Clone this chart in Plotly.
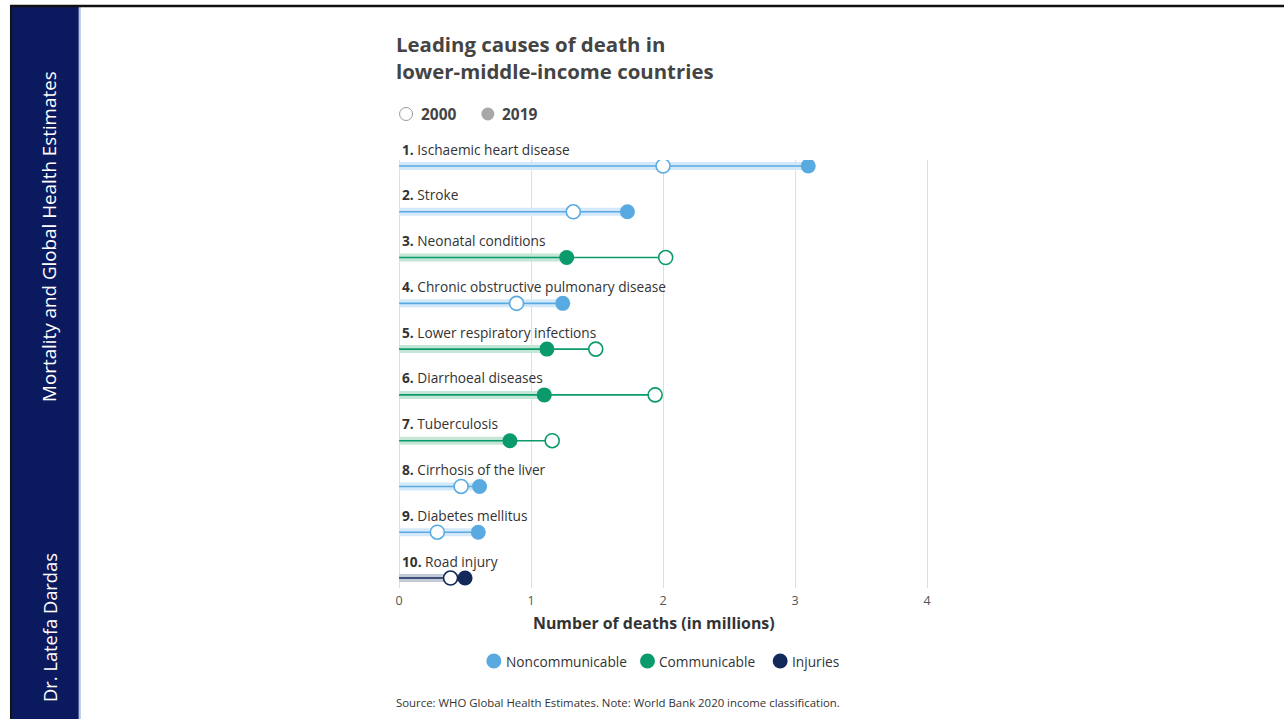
import plotly.graph_objects as go

W, H = 1285, 719

causes = ["Ischaemic heart disease", "Stroke", "Neonatal conditions",
          "Chronic obstructive pulmonary disease", "Lower respiratory infections",
          "Diarrhoeal diseases", "Tuberculosis", "Cirrhosis of the liver",
          "Diabetes mellitus", "Road injury"]
deaths_2000 = [2.00, 1.32, 2.02, 0.89, 1.49, 1.94, 1.16, 0.47, 0.29, 0.39]
deaths_2019 = [3.10, 1.73, 1.27, 1.24, 1.12, 1.10, 0.84, 0.61, 0.60, 0.50]
groups = ["Noncommunicable", "Noncommunicable", "Communicable", "Noncommunicable",
          "Communicable", "Communicable", "Communicable", "Noncommunicable",
          "Noncommunicable", "Injuries"]
x_ticks = [0, 1, 2, 3, 4]

main_col = {"Noncommunicable": "#5aaae2", "Communicable": "#0b9a6b", "Injuries": "#13295a"}
band_col = {"Noncommunicable": "#d3e8f8", "Communicable": "#c3e6d6", "Injuries": "#c2cad8"}
FONT = "Open Sans"

# layout geometry (pixels)
X0_PX, UNIT_PX = 398, 132.3
ROW0_PX, ROW_STEP = 166, 45.78
PLOT_TOP, PLOT_BOT = 160, 588


def px(x):
    return x / W


def py(y):
    return 1 - y / H


fig = go.Figure()

for g in ["Noncommunicable", "Communicable", "Injuries"]:
    idx = [i for i, gg in enumerate(groups) if gg == g]
    bx, by, lx, ly = [], [], [], []
    for i in idx:
        bx += [0, deaths_2019[i], None]
        by += [i, i, None]
        lx += [0, max(deaths_2000[i], deaths_2019[i]), None]
        ly += [i, i, None]
    fig.add_trace(go.Scatter(x=bx, y=by, mode="lines", line=dict(color=band_col[g], width=8),
                             hoverinfo="skip", showlegend=False))
    fig.add_trace(go.Scatter(x=lx, y=ly, mode="lines", line=dict(color=main_col[g], width=1.6),
                             hoverinfo="skip", showlegend=False))
    fig.add_trace(go.Scatter(x=[deaths_2000[i] for i in idx], y=idx, mode="markers",
                             marker=dict(size=14, color="white", line=dict(color=main_col[g], width=1.6)),
                             showlegend=False, name="2000"))
    fig.add_trace(go.Scatter(x=[deaths_2019[i] for i in idx], y=idx, mode="markers",
                             marker=dict(size=15, color=main_col[g], line=dict(color=main_col[g], width=0)),
                             showlegend=False, name="2019"))

annotations = []
for i, c in enumerate(causes):
    annotations.append(dict(x=px(X0_PX), y=py(ROW0_PX + i * ROW_STEP - 17), xref="paper", yref="paper",
                            xanchor="left", yanchor="middle",
                            xshift=1, text=f"<b>{i + 1}.</b> {c}", showarrow=False,
                            font=dict(family=FONT, size=13.7, color="#333333")))

# title
annotations.append(dict(x=px(393), y=py(57), xref="paper", yref="paper", xanchor="left", yanchor="middle",
                        text="<b>Leading causes of death in<br>lower-middle-income countries</b>",
                        align="left", showarrow=False,
                        font=dict(family=FONT, size=20.4, color="#444444")))
# top legend
annotations.append(dict(x=px(418), y=py(114), xref="paper", yref="paper", xanchor="left", yanchor="middle",
                        text="<b>2000</b>", showarrow=False, font=dict(family=FONT, size=15.5, color="#444444")))
annotations.append(dict(x=px(499), y=py(114), xref="paper", yref="paper", xanchor="left", yanchor="middle",
                        text="<b>2019</b>", showarrow=False, font=dict(family=FONT, size=15.5, color="#444444")))
# axis title
annotations.append(dict(x=px(654), y=py(623), xref="paper", yref="paper", xanchor="center", yanchor="middle",
                        text="<b>Number of deaths (in millions)</b>", showarrow=False,
                        font=dict(family=FONT, size=15.9, color="#333333")))
# bottom legend
for lx_, txt in [(503, "Noncommunicable"), (657, "Communicable"), (790, "Injuries")]:
    annotations.append(dict(x=px(lx_), y=py(661), xref="paper", yref="paper", xanchor="left", yanchor="middle",
                            text=txt, showarrow=False, font=dict(family=FONT, size=13.7, color="#333333")))
# source
annotations.append(dict(x=px(393), y=py(702), xref="paper", yref="paper", xanchor="left", yanchor="middle",
                        text="Source: WHO Global Health Estimates. Note: World Bank 2020 income classification.",
                        showarrow=False, font=dict(family=FONT, size=11.4, color="#333333")))
# sidebar texts
annotations.append(dict(x=px(47), y=py(236), xref="paper", yref="paper", xanchor="center", yanchor="middle",
                        text="Mortality and Global Health Estimates", textangle=-90, showarrow=False,
                        font=dict(family=FONT, size=18.8, color="white")))
annotations.append(dict(x=px(47), y=py(627), xref="paper", yref="paper", xanchor="center", yanchor="middle",
                        text="Dr. Latefa Dardas", textangle=-90, showarrow=False,
                        font=dict(family=FONT, size=18.3, color="white")))

shapes = [
    dict(type="rect", xref="paper", yref="paper", x0=px(10), x1=px(77), y0=0, y1=py(7),
         fillcolor="#0b1a5e", line=dict(width=0), layer="below"),
    dict(type="line", xref="paper", yref="paper", x0=px(78), x1=px(78), y0=0, y1=py(7),
         line=dict(color="#b9c6e0", width=2)),
    dict(type="line", xref="paper", yref="paper", x0=px(9), x1=px(9), y0=0, y1=py(6),
         line=dict(color="#111111", width=2)),
    dict(type="line", xref="paper", yref="paper", x0=px(8), x1=1, y0=py(6), y1=py(6),
         line=dict(color="#111111", width=2.5)),
    # top legend symbols
    dict(type="circle", xref="paper", yref="paper", x0=px(398.5), x1=px(411.5), y0=py(120.5), y1=py(107.5),
         fillcolor="white", line=dict(color="#9a9a9a", width=1)),
    dict(type="circle", xref="paper", yref="paper", x0=px(480.5), x1=px(493.5), y0=py(120.5), y1=py(107.5),
         fillcolor="#a8a8a8", line=dict(width=0)),
]
for cx, g in [(493, "Noncommunicable"), (647, "Communicable"), (780, "Injuries")]:
    shapes.append(dict(type="circle", xref="paper", yref="paper", x0=px(cx - 7.5), x1=px(cx + 7.5),
                       y0=py(668.5), y1=py(653.5), fillcolor=main_col[g], line=dict(width=0)))

pad_l, pad_r = 2, 3
fig.update_layout(
    width=W, height=H,
    margin=dict(l=0, r=0, t=0, b=0),
    paper_bgcolor="white", plot_bgcolor="white",
    showlegend=False,
    xaxis=dict(domain=[px(X0_PX - pad_l), px(X0_PX + 4 * UNIT_PX + pad_r)],
               range=[-pad_l / UNIT_PX, 4 + pad_r / UNIT_PX], tickvals=x_ticks,
               ticktext=[str(t) for t in x_ticks],
               showgrid=True, gridcolor="#dedede", gridwidth=1,
               zeroline=True, zerolinecolor="#dedede", zerolinewidth=1,
               showline=False, ticks="", tickfont=dict(family=FONT, size=12.5, color="#555555"),
               ticklabelstandoff=3, fixedrange=True),
    yaxis=dict(domain=[py(PLOT_BOT), py(PLOT_TOP)],
               range=[9 + (PLOT_BOT - ROW0_PX - 9 * ROW_STEP) / ROW_STEP, -(ROW0_PX - PLOT_TOP) / ROW_STEP],
               showgrid=False, zeroline=False, showticklabels=False, showline=False, fixedrange=True),
    annotations=annotations,
    shapes=shapes,
    font=dict(family=FONT),
)

fig.write_html("out.html")
